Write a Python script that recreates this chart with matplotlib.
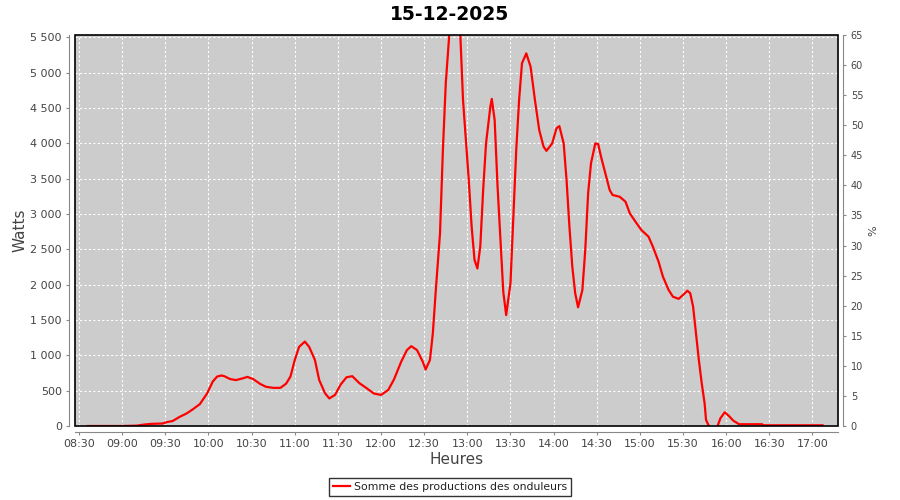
import matplotlib
matplotlib.use("Agg")
import matplotlib.pyplot as plt
import matplotlib.dates as mdates
from matplotlib.patches import Rectangle
import pandas as pd

title = "15-12-2025"
series_name = "Somme des productions des onduleurs"
times = ["08:36", "09:00", "09:10", "09:15", "09:20", "09:28", "09:31", "09:35", "09:40", "09:45",
         "09:49", "09:54", "09:59", "10:03", "10:06", "10:09", "10:11", "10:15", "10:19", "10:23",
         "10:27", "10:31", "10:36", "10:40", "10:45", "10:50", "10:54", "10:57", "11:00", "11:03",
         "11:07", "11:10", "11:14", "11:17", "11:21", "11:24", "11:28", "11:32", "11:36", "11:40",
         "11:45", "11:50", "11:55", "12:00", "12:05", "12:09", "12:14", "12:18", "12:21", "12:25",
         "12:29", "12:31", "12:34", "12:36", "12:38", "12:41", "12:43", "12:45", "12:48", "12:51",
         "12:55", "12:57", "12:59", "13:01", "13:03", "13:05", "13:07", "13:09", "13:11", "13:13",
         "13:16", "13:17", "13:19", "13:21", "13:24", "13:25", "13:27", "13:30", "13:32", "13:34",
         "13:36", "13:38", "13:41", "13:44", "13:47", "13:50", "13:53", "13:55", "13:59", "14:02",
         "14:04", "14:07", "14:09", "14:11", "14:13", "14:15", "14:17", "14:20", "14:22", "14:24",
         "14:26", "14:29", "14:31", "14:33", "14:36", "14:39", "14:41", "14:46", "14:50", "14:53",
         "14:57", "15:01", "15:06", "15:09", "15:13", "15:16", "15:20", "15:23", "15:27", "15:30",
         "15:33", "15:35", "15:37", "15:39", "15:41", "15:43", "15:45", "15:46", "15:48", "15:51",
         "15:54", "15:56", "15:59", "16:02", "16:05", "16:09", "16:25", "16:26", "17:07"]
watts = [0, 0, 5, 20, 30, 35, 55, 70, 130, 180,
         235, 310, 460, 630, 700, 715, 705, 665, 650, 670,
         695, 665, 595, 555, 540, 540, 600, 700, 935, 1120,
         1195, 1120, 935, 650, 465, 390, 440, 590, 690, 705,
         605, 535, 460, 440, 510, 660, 910, 1075, 1130, 1075,
         910, 800, 935, 1310, 1900, 2730, 3905, 4850, 5700, 5900,
         5600, 4615, 4050, 3480, 2820, 2350, 2230, 2540, 3340, 4000,
         4520, 4630, 4330, 3400, 2255, 1900, 1570, 2020, 2965, 3905,
         4615, 5135, 5275, 5085, 4615, 4190, 3955, 3895, 4000, 4215,
         4245, 4000, 3480, 2820, 2255, 1880, 1680, 1925, 2490, 3295,
         3720, 4000, 3990, 3810, 3575, 3340, 3270, 3245, 3175, 3010,
         2890, 2775, 2680, 2540, 2325, 2115, 1925, 1830, 1800, 1855,
         1915, 1880, 1690, 1310, 935, 605, 320, 85, 0, -60,
         0, 110, 195, 140, 75, 25, 25, 10, 10]
x_ticks = ["08:30", "09:00", "09:30", "10:00", "10:30", "11:00", "11:30", "12:00", "12:30",
           "13:00", "13:30", "14:00", "14:30", "15:00", "15:30", "16:00", "16:30", "17:00"]
w_ticks = [0, 500, 1000, 1500, 2000, 2500, 3000, 3500, 4000, 4500, 5000, 5500]
pct_ticks = [0, 5, 10, 15, 20, 25, 30, 35, 40, 45, 50, 55, 60, 65]

plt.rcParams['font.family'] = ['DejaVu Sans']
day = "2025-12-15 "
t = pd.to_datetime([day + s for s in times])
xt = pd.to_datetime([day + s for s in x_ticks])

fig = plt.figure(figsize=(9, 5), dpi=100)
ax = fig.add_axes([75/900, 1-426/500, (837.5-75)/900, (426-35)/500])
ax.set_facecolor('#CCCCCC')
ax.plot(t, watts, color='#FF0000', lw=1.6, label=series_name, zorder=3)
ax.set_ylim(0, 5535)
ax.set_xlim(pd.Timestamp(day + "08:27:10"), pd.Timestamp(day + "17:17:25"))
ax.set_yticks(w_ticks)
ax.set_yticklabels([f"{v:,}".replace(",", " ") for v in w_ticks])
ax.set_xticks(xt)
ax.xaxis.set_major_formatter(mdates.DateFormatter("%H:%M"))
ax.grid(True, color='white', linestyle=(0, (2, 2)), lw=0.8)
ax.set_axisbelow(True)

gray = '#888888'
txt = '#444444'
for s in ['left', 'bottom']:
    ax.spines[s].set_position(('outward', 4))
    ax.spines[s].set_color(gray)
ax.spines['top'].set_visible(False)
ax.spines['right'].set_visible(False)
ax.tick_params(axis='both', colors=gray, labelcolor=txt, labelsize=8, length=2, width=0.8)
ax.add_patch(Rectangle((0, 0), 1, 1, transform=ax.transAxes, fill=False, ec='black', lw=1.2,
                       clip_on=False, zorder=4))

ax2 = ax.twinx()
ax2.set_ylim(0, 65)
ax2.set_yticks(pct_ticks)
ax2.spines['right'].set_position(('outward', 4))
ax2.spines['right'].set_color(gray)
for s in ['left', 'top', 'bottom']:
    ax2.spines[s].set_visible(False)
ax2.tick_params(axis='y', colors=gray, labelcolor=txt, labelsize=7, length=2, width=0.8)
ax2.set_ylabel('%', color=txt, fontsize=8, labelpad=4)

ax.set_ylabel('Watts', color=txt, fontsize=11, labelpad=2)
ax.set_xlabel('Heures', color=txt, fontsize=11, labelpad=2)
fig.text(0.5, 0.97, title, ha='center', va='center', fontsize=13.5, fontweight='bold')

leg = fig.legend(loc='center', bbox_to_anchor=(450/900, 1-487/500), frameon=True, fancybox=False,
                 fontsize=7.8, handlelength=1.6, handletextpad=0.3, borderpad=0.35, borderaxespad=0)
leg.get_frame().set_edgecolor('black')
leg.get_frame().set_linewidth(1)
for tx in leg.get_texts():
    tx.set_color('#222222')

fig.savefig('out.png', dpi=100)
